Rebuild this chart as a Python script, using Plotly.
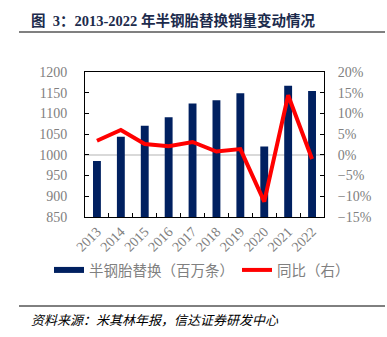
import plotly.graph_objects as go

years = ["2013", "2014", "2015", "2016", "2017", "2018", "2019", "2020", "2021", "2022"]
replacement = [985, 1044, 1070, 1091, 1124, 1132, 1149, 1020, 1167, 1154]
yoy = [0.034, 0.060, 0.026, 0.021, 0.031, 0.008, 0.014, -0.113, 0.144, -0.010]

bar_name = "半钢胎替换（百万条）"
line_name = "同比（右）"
title_text = "图&nbsp;&nbsp;3：2013-2022 年半钢胎替换销量变动情况"
source_text = "资料来源：米其林年报，信达证券研发中心"

W, H = 387, 337
L, R, T, B = 85, 63, 72, 120
pw, ph = W - L - R, H - T - B

def px(x):
    return (x - L) / pw

def py(y):
    return (H - B - y) / ph

navy = "#002060"
red = "#FF0000"
gray = "#808080"
serif = "Liberation Serif, Noto Sans CJK SC"
cjk = "Noto Sans CJK SC, Liberation Serif"

fig = go.Figure()
fig.add_trace(go.Bar(x=years, y=replacement, marker=dict(color=navy, line=dict(width=0)),
                     name=bar_name, showlegend=False, yaxis="y"))
fig.add_trace(go.Scatter(x=[None], y=[None], mode="lines", name=bar_name,
                         line=dict(color=navy, width=6), yaxis="y", legend="legend"))
fig.add_trace(go.Scatter(x=years, y=yoy, mode="lines", name=line_name,
                         line=dict(color=red, width=4), yaxis="y2", legend="legend2"))

legend_common = dict(orientation="h", xref="container", yref="container",
                     xanchor="left", y=1 - 270 / H, yanchor="middle",
                     font=dict(family=cjk, size=14.5, color=gray),
                     itemwidth=30, bgcolor="rgba(0,0,0,0)", borderwidth=0)

fig.update_layout(
    width=W, height=H,
    margin=dict(l=L, r=R, t=T, b=B, autoexpand=False),
    paper_bgcolor="white", plot_bgcolor="white",
    bargap=0.67,
    showlegend=True,
    legend=dict(x=49 / W, **legend_common),
    legend2=dict(x=237 / W, **legend_common),
    xaxis=dict(type="category", showline=True, linecolor="black", linewidth=1, mirror=True,
               ticks="inside", ticklen=4, tickcolor="black", tickson="boundaries",
               tickangle=-45, tickfont=dict(family=serif, size=14, color=gray),
               showgrid=False, zeroline=False, automargin=False),
    yaxis=dict(range=[850, 1200], dtick=50, showline=True, linecolor="black", linewidth=1,
               ticks="inside", ticklen=4, tickcolor="black", showgrid=False, zeroline=False,
               tickfont=dict(family=serif, size=14, color=gray), ticklabelstandoff=14,
               automargin=False),
    yaxis2=dict(range=[-0.15, 0.20], dtick=0.05, tickformat=".0%", overlaying="y", side="right",
                showline=True, linecolor="black", linewidth=1,
                ticks="inside", ticklen=4, tickcolor="black", showgrid=False,
                zeroline=True, zerolinecolor="#d9d9d9", zerolinewidth=1.5,
                tickfont=dict(family=serif, size=14, color=gray), ticklabelstandoff=10,
                automargin=False),
    annotations=[
        dict(text=title_text, xref="paper", yref="paper", x=px(29), y=py(21),
             xanchor="left", yanchor="middle", showarrow=False,
             font=dict(family=serif, size=14.5, color="#1c2b4c", weight="bold")),
        dict(text="<i>" + source_text + "</i>", xref="paper", yref="paper", x=px(29), y=py(319),
             xanchor="left", yanchor="middle", showarrow=False,
             font=dict(family=cjk, size=13, color="black")),
    ],
    shapes=[
        dict(type="line", xref="paper", yref="paper", x0=px(19), x1=px(385), y0=py(32), y1=py(32),
             line=dict(color=gray, width=2)),
        dict(type="line", xref="paper", yref="paper", x0=px(19), x1=px(385), y0=py(306), y1=py(306),
             line=dict(color="black", width=1)),
    ],
)

fig.write_html("out.html")
